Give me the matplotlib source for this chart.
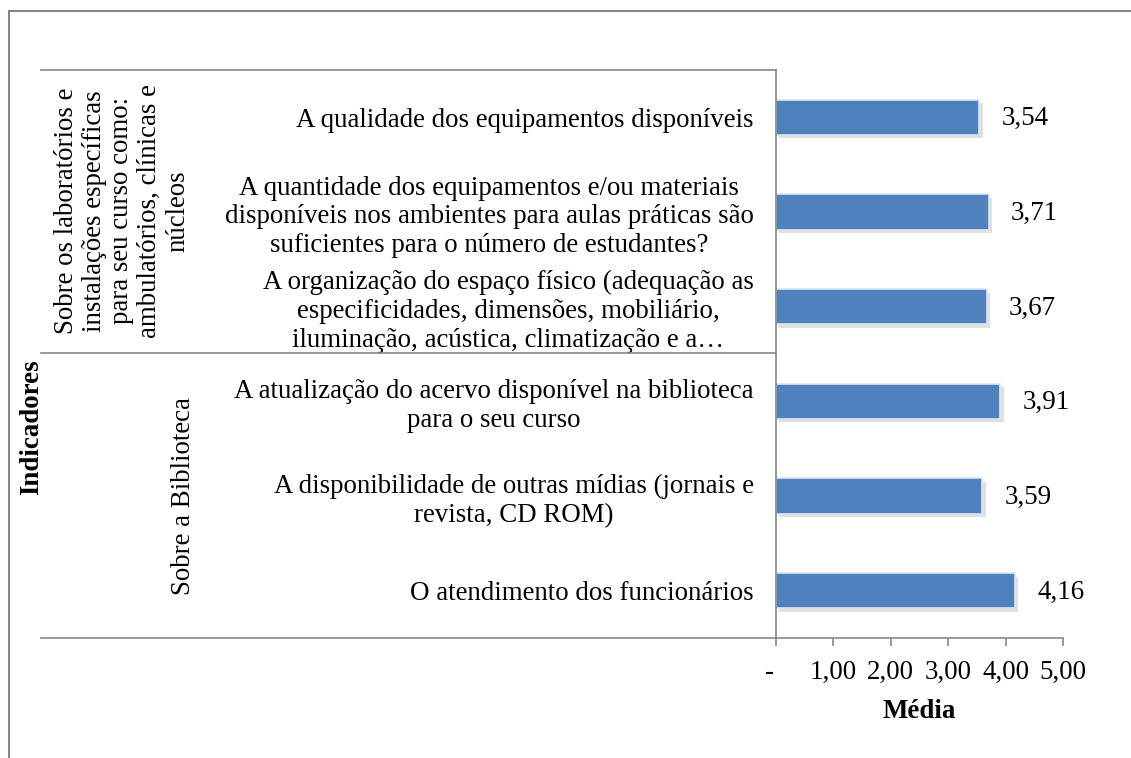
import matplotlib
matplotlib.use("Agg")
import matplotlib.pyplot as plt
import matplotlib.patheffects as pe
from matplotlib.lines import Line2D

plt.rcParams['font.family'] = ['Liberation Serif', 'DejaVu Serif']

# dados
categorias = [
    "A qualidade dos equipamentos disponíveis",
    "A quantidade dos equipamentos e/ou materiais\ndisponíveis nos ambientes para aulas práticas são\nsuficientes para o número de estudantes?",
    "A organização do espaço físico (adequação as\nespecificidades, dimensões, mobiliário,\niluminação, acústica, climatização e a…",
    "A atualização do acervo disponível na biblioteca\npara o seu curso",
    "A disponibilidade de outras mídias (jornais e\nrevista, CD ROM)",
    "O atendimento dos funcionários",
]
grupos = [
    "Sobre os laboratórios e\ninstalações específicas\npara seu curso como:\nambulatórios, clínicas e\nnúcleos",
    "Sobre a Biblioteca",
]
medias = [3.54, 3.71, 3.67, 3.91, 3.59, 4.16]
x_ticks = [0, 1, 2, 3, 4, 5]
x_ticklabels = ["-  ", "1,00", "2,00", "3,00", "4,00", "5,00"]

W, H = 1131, 758
cinza = '#868686'
azul = '#4F81BD'
fs = 19.4

fig = plt.figure(figsize=(W / 100, H / 100), dpi=100)
ax = fig.add_axes([776 / W, 1 - 638 / H, (1063 - 776) / W, (638 - 70) / H])

y = list(range(len(medias)))
bars = ax.barh(y, medias, height=0.37, color=azul, edgecolor='#DCE6F2', linewidth=1.2)
for b in bars:
    b.set_path_effects([pe.SimplePatchShadow(offset=(2.5, -2.5), shadow_rgbFace='#808080', alpha=0.25), pe.Normal()])

for yi, v in zip(y, medias):
    ax.annotate(f"{v:.2f}".replace('.', ','), (v, yi), xytext=(16, -1), textcoords='offset points',
                ha='left', va='center', fontsize=fs)

ax.set_xlim(0, 5)
ax.set_ylim(len(medias) - 0.5, -0.5)
ax.set_xticks(x_ticks)
ax.set_xticklabels(x_ticklabels, fontsize=fs)
ax.set_yticks(y)
ax.set_yticklabels(categorias, fontsize=fs)
for t in ax.get_yticklabels():
    t.set_multialignment('center')
    t.set_linespacing(1.2)
ax.tick_params(axis='y', length=0, pad=16)
ax.tick_params(axis='x', length=6, color=cinza, width=1.2, pad=10)
for s in ['top', 'right']:
    ax.spines[s].set_visible(False)
for s in ['left', 'bottom']:
    ax.spines[s].set_color(cinza)
    ax.spines[s].set_linewidth(1.2)
ax.set_xlabel("Média", fontsize=fs, fontweight='bold', labelpad=10)

# linhas da tabela de categorias
def linha(x0, x1, yy):
    fig.add_artist(Line2D([x0 / W, x1 / W], [1 - yy / H] * 2, transform=fig.transFigure, color=cinza, lw=1.2))

linha(41, 776, 70)
linha(41, 776, 353.5)
linha(41, 776, 638)

# rótulos dos grupos
fig.text(122 / W, 1 - 211 / H, grupos[0], rotation=90, ha='center', va='center',
         multialignment='center', fontsize=fs, linespacing=1.15)
fig.text(183 / W, 1 - 496 / H, grupos[1], rotation=90, ha='center', va='center', fontsize=fs)
fig.text(32 / W, 1 - 427 / H, "Indicadores", rotation=90, ha='center', va='center',
         fontsize=fs, fontweight='bold')

# borda
fig.add_artist(Line2D([9 / W, 9 / W], [1 - 11 / H, 0], transform=fig.transFigure, color=cinza, lw=1.5))
fig.add_artist(Line2D([9 / W, 1], [1 - 11 / H] * 2, transform=fig.transFigure, color=cinza, lw=1.5))

fig.savefig("out.png", dpi=100)
